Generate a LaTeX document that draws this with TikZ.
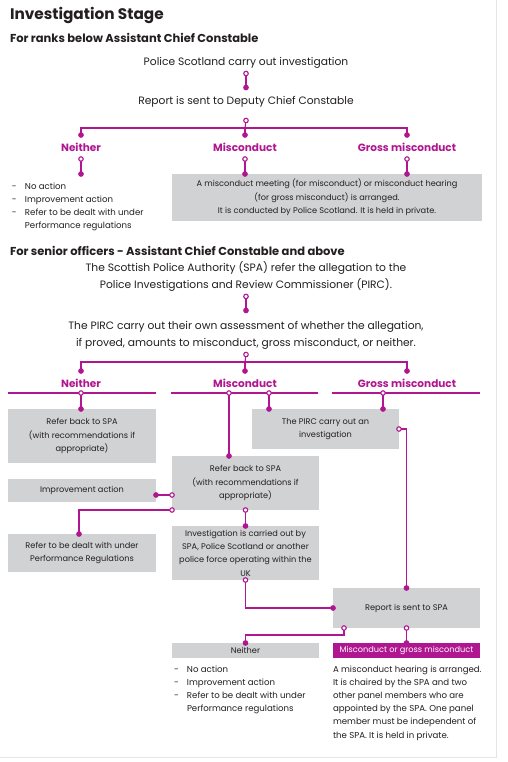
\documentclass[tikz,border=0pt]{standalone}
\usepackage{fontspec}
\setmainfont{Poppins}
\usetikzlibrary{arrows.meta,calc}
\definecolor{mag}{HTML}{B0168F}
\definecolor{boxg}{HTML}{D1D2D3}
\definecolor{ink}{HTML}{231F20}
\newcommand{\mainsz}{\fontsize{10.7}{17}\selectfont}
\newcommand{\smallsz}{\fontsize{8.2}{13.3}\selectfont}
\newcommand{\listsz}{\fontsize{8.6}{13.1}\selectfont}
\newcommand{\dashitem}[1]{\makebox[13pt][l]{-}#1}
\tikzset{
  mline/.style={draw=mag, line width=1.1pt},
  conn/.style={mline, {Circle[open,fill=white,length=5.6pt,width=5.6pt]}-{Circle[length=5.6pt,width=5.6pt]}, shorten <=-2.8pt, shorten >=-2.8pt},
  openstart/.style={mline, {Circle[open,fill=white,length=5.6pt,width=5.6pt]}-, shorten <=-2.8pt},
  dotend/.style={mline, -{Circle[length=5.6pt,width=5.6pt]}, shorten >=-2.8pt},
  maintext/.style={font=\mainsz, align=center, inner ysep=5pt, text=ink},
  head/.style={font=\fontsize{10.5}{13}\selectfont\bfseries, text=mag, minimum height=24pt},
  gbox/.style={fill=boxg, font=\smallsz, align=center, text=ink},
  listtext/.style={font=\listsz, align=left, text=ink},
  subhead/.style={anchor=base west, font=\fontsize{11.5}{13}\selectfont\bfseries, text=ink},
}
\begin{document}
\begin{tikzpicture}[x=1pt,y=-1pt, every node/.style={inner sep=0pt, outer sep=0pt}]
\useasboundingbox (0,0) rectangle (507,762);
\fill[white] (0,0) rectangle (507,762);
\draw[black!10, line width=0.8pt] (496,0) -- (496,757) -- (0,757);

% ---------- Section 1 ----------
\node[anchor=base west, font=\fontsize{15.3}{18}\selectfont\bfseries, text=ink] (title) at (10,20) {Investigation Stage};
\node[subhead] (sub1) at (10,43) {For ranks below Assistant Chief Constable};

\node[maintext] (n1) at (246,63) {Police Scotland carry out investigation};
\node[maintext] (n2) at (246,102) {Report is sent to Deputy Chief Constable};
\draw[conn] (n1.south) -- ([yshift=4pt]n2.north);

\node[head] (h1a) at (81,147) {Neither};
\node[head] (h1b) at (245,147) {Misconduct};
\node[head] (h1c) at (407,147) {Gross misconduct};

\coordinate (f1) at (245,128);
\draw[openstart] ([yshift=-8pt]n2.south) -- (f1);
\draw[dotend] (f1) -| (h1a.north);
\draw[dotend] (f1) -- (h1b.north);
\draw[dotend] (f1) -| (h1c.north);

\node[gbox, minimum width=310pt, minimum height=47pt] (box1) at (327,197.5)
  {A misconduct meeting (for misconduct) or misconduct hearing\\(for gross misconduct) is arranged.\\It is conducted by Police Scotland. It is held in private.};
\node[listtext, anchor=north west, inner ysep=9pt, inner xsep=2pt] (list1) at (10,174)
  {\dashitem{No action}\\\dashitem{Improvement action}\\\dashitem{Refer to be dealt with under}\\\hspace*{13pt}Performance regulations};

\draw[conn] (h1a.south) -- (h1a.south |- list1.north);
\draw[conn] (h1b.south) -- (h1b.south |- box1.north);
\draw[conn] (h1c.south) -- (h1c.south |- box1.north);

% ---------- Section 2 ----------
\node[subhead] (sub2) at (10,255) {For senior officers - Assistant Chief Constable and above};

\node[maintext] (n3) at (246,276.5) {The Scottish Police Authority (SPA) refer the allegation to the\\Police Investigations and Review Commissioner (PIRC).};
\node[maintext] (n4) at (246,335.5) {The PIRC carry out their own assessment of whether the allegation,\\if proved, amounts to misconduct, gross misconduct, or neither.};
\draw[conn] (n3.south) -- ([yshift=6pt]n4.north);

\node[head] (h2a) at (81,383) {Neither};
\node[head] (h2b) at (245,383) {Misconduct};
\node[head] (h2c) at (407,383) {Gross misconduct};

\coordinate (f2) at (245,362);
\draw[openstart] (n4.south) -- (f2);
\draw[dotend] (f2) -| (h2a.north);
\draw[dotend] (f2) -- (h2b.north);
\draw[dotend] (f2) -| (h2c.north);

% separator rules
\draw[mline] (8,393) -- (156,393);
\draw[mline] (171,393) -- (318,393);
\draw[mline] (332,393) -- (480,393);
\coordinate (s1) at (81,393);
\coordinate (s2) at (229,393);
\coordinate (s3) at (269,393);
\coordinate (s4) at (383,393);

\node[gbox, minimum width=148pt, minimum height=54pt] (box2) at (82,436)
  {Refer back to SPA\\(with recommendations if\\appropriate)};
\node[gbox, minimum width=147pt, minimum height=40pt] (box3) at (325.5,429)
  {The PIRC carry out an\\investigation};
\node[gbox, minimum width=147pt, minimum height=54pt] (box4) at (245.5,483)
  {Refer back to SPA\\(with recommendations if\\appropriate)};
\node[gbox, minimum width=148pt, minimum height=23pt] (box5) at (82,490.5)
  {Improvement action};
\node[gbox, minimum width=148pt, minimum height=38pt] (box6) at (82,553)
  {Refer to be dealt with under\\Performance Regulations};
\node[gbox, minimum width=147pt, minimum height=54pt] (box7) at (245.5,553)
  {Investigation is carried out by\\SPA, Police Scotland or another\\police force operating within the\\UK};
\node[gbox, minimum width=147pt, minimum height=40pt] (box8) at (406.5,608)
  {Report is sent to SPA};
\node[gbox, minimum width=147pt, minimum height=15pt] (box9) at (245.5,650.5)
  {Neither};
\node[gbox, fill=mag, text=white, minimum width=147pt, minimum height=15pt] (box10) at (406.5,650.5)
  {Misconduct or gross misconduct};

\draw[conn] (s1) -- (s1 |- box2.north);
\draw[conn] (s2) -- (s2 |- box4.north);
\draw[conn] (s3) -- (s3 |- box3.north);
\draw[conn] (s4) -- (s4 |- box3.north);

\coordinate (j1) at (0,495);
\draw[conn] (box4.west |- j1) -- (box5.east |- j1);
\draw[conn] (box4.south west) -| ([xshift=-3pt]box6.north);
\draw[conn] (box4.south) -- (box7.north);
\draw[conn] (box7.south) |- (box8.west);
\draw[conn] (box3.east) -| (box8.north);

\coordinate (j2) at (0,635);
\draw[conn] ([xshift=-62.5pt]box8.south) |- (j2 -| box9.north) -- (box9.north);
\draw[conn] (box8.south) -- (box10.north);

\node[listtext, anchor=north west] (list2) at (174,666)
  {\dashitem{No action}\\\dashitem{Improvement action}\\\dashitem{Refer to be dealt with under}\\\hspace*{13pt}Performance regulations};
\node[listtext, anchor=north west] (para) at (333,666)
  {A misconduct hearing is arranged.\\It is chaired by the SPA and two\\other panel members who are\\appointed by the SPA. One panel\\member must be independent of\\the SPA. It is held in private.};
\end{tikzpicture}
\end{document}
